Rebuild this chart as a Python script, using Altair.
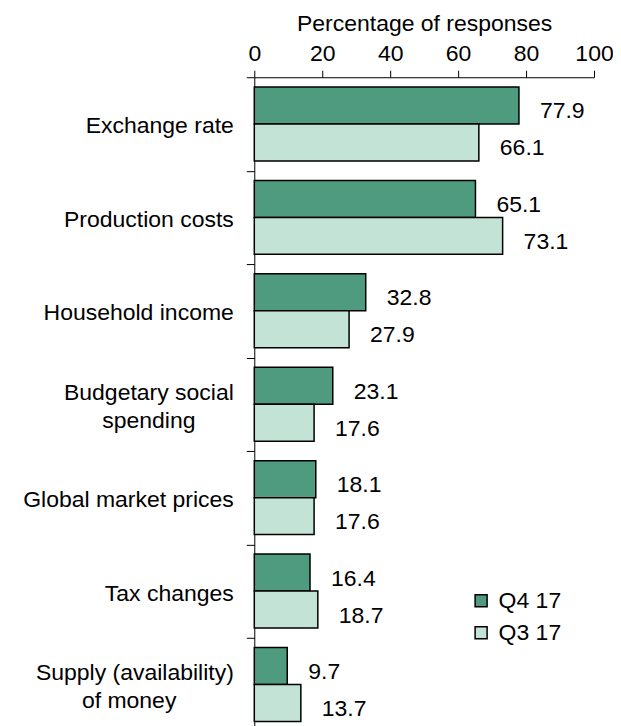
import altair as alt
import pandas as pd

categories = [
    "Exchange rate",
    "Production costs",
    "Household income",
    "Budgetary social spending",
    "Global market prices",
    "Tax changes",
    "Supply (availability) of money",
]
series = ["Q4 17", "Q3 17"]
q4_17 = [77.9, 65.1, 32.8, 23.1, 18.1, 16.4, 9.7]
q3_17 = [66.1, 73.1, 27.9, 17.6, 17.6, 18.7, 13.7]
x_ticks = [0, 20, 40, 60, 80, 100]
colors = ["#4F9B80", "#C2E3D6"]

rows = []
for i, c in enumerate(categories):
    rows.append({"category": c, "series": series[0], "value": q4_17[i]})
    rows.append({"category": c, "series": series[1], "value": q3_17[i]})
df = pd.DataFrame(rows)

FONT = "Liberation Sans"
NB = "\u00a0"
ZW = "\u200b"
label_expr = (
    "datum.label == 'Budgetary social spending' ? ['Budgetary social', 'spending" + NB * 6 + ZW + "'] : "
    "datum.label == 'Supply (availability) of money' ? ['Supply (availability)', 'of money" + NB * 9 + ZW + "'] : datum.label"
)
two_line_test = (
    "datum.value == 'Budgetary social spending' || datum.value == 'Supply (availability) of money'"
)

y_enc = alt.Y(
    "category:N",
    sort=categories,
    title=None,
    scale=alt.Scale(paddingInner=0, paddingOuter=0),
    axis=alt.Axis(
        tickBand="extent",
        tickSize=8,
        tickColor="black",
        domainColor="black",
        labelFont=FONT,
        labelFontSize=23,
        labelColor="black",
        labelPadding=13,
        labelLimit=0,
        labelLineHeight=28,
        labelExpr=label_expr,
        labelAlign="right",
        labelBaseline="middle",
        labelOffset={"condition": {"test": two_line_test, "value": -12}, "value": 2},
    ),
)
yoff_enc = alt.YOffset(
    "series:N", sort=series, scale=alt.Scale(paddingOuter=0.2635, paddingInner=0)
)

x_enc = alt.X(
    "value:Q",
    scale=alt.Scale(domain=[0, 100], nice=False),
    axis=alt.Axis(
        orient="top",
        values=x_ticks,
        grid=False,
        tickSize=7,
        tickColor="black",
        domainColor="black",
        labelFont=FONT,
        labelFontSize=23,
        labelColor="black",
        labelPadding=5,
        labelFlush=False,
        title="Percentage of responses",
        titleFont=FONT,
        titleFontSize=23,
        titleFontWeight="normal",
        titleColor="black",
        titlePadding=7,
    ),
)

bars = alt.Chart(df).mark_bar(stroke="black", strokeWidth=1.5).encode(
    x=x_enc,
    y=y_enc,
    yOffset=yoff_enc,
    color=alt.Color(
        "series:N",
        sort=series,
        scale=alt.Scale(domain=series, range=colors),
        legend=alt.Legend(
            orient="none",
            legendX=215.5,
            legendY=512.5,
            title=None,
            symbolType="square",
            symbolSize=144,
            symbolStrokeColor="black",
            symbolStrokeWidth=1.5,
            labelFont=FONT,
            labelFontSize=23,
            labelColor="black",
            labelOffset=6,
            rowPadding=8,
            padding=0,
        ),
    ),
)

labels = alt.Chart(df).mark_text(
    align="left", baseline="middle", dx=21, dy=6, font=FONT, fontSize=23, color="black"
).encode(
    x=alt.X("value:Q"),
    y=y_enc,
    yOffset=yoff_enc,
    text=alt.Text("value:Q", format=".1f"),
)

chart = (
    alt.layer(bars, labels)
    .properties(
        width=340,
        height=654.5,
        padding={"left": 246.5, "top": 69, "right": 19, "bottom": 0},
        autosize=alt.AutoSizeParams(type="none"),
        background="white",
    )
    .configure_view(stroke=None)
)

chart.save("out.html", embed_options={"renderer": "svg", "actions": False})
